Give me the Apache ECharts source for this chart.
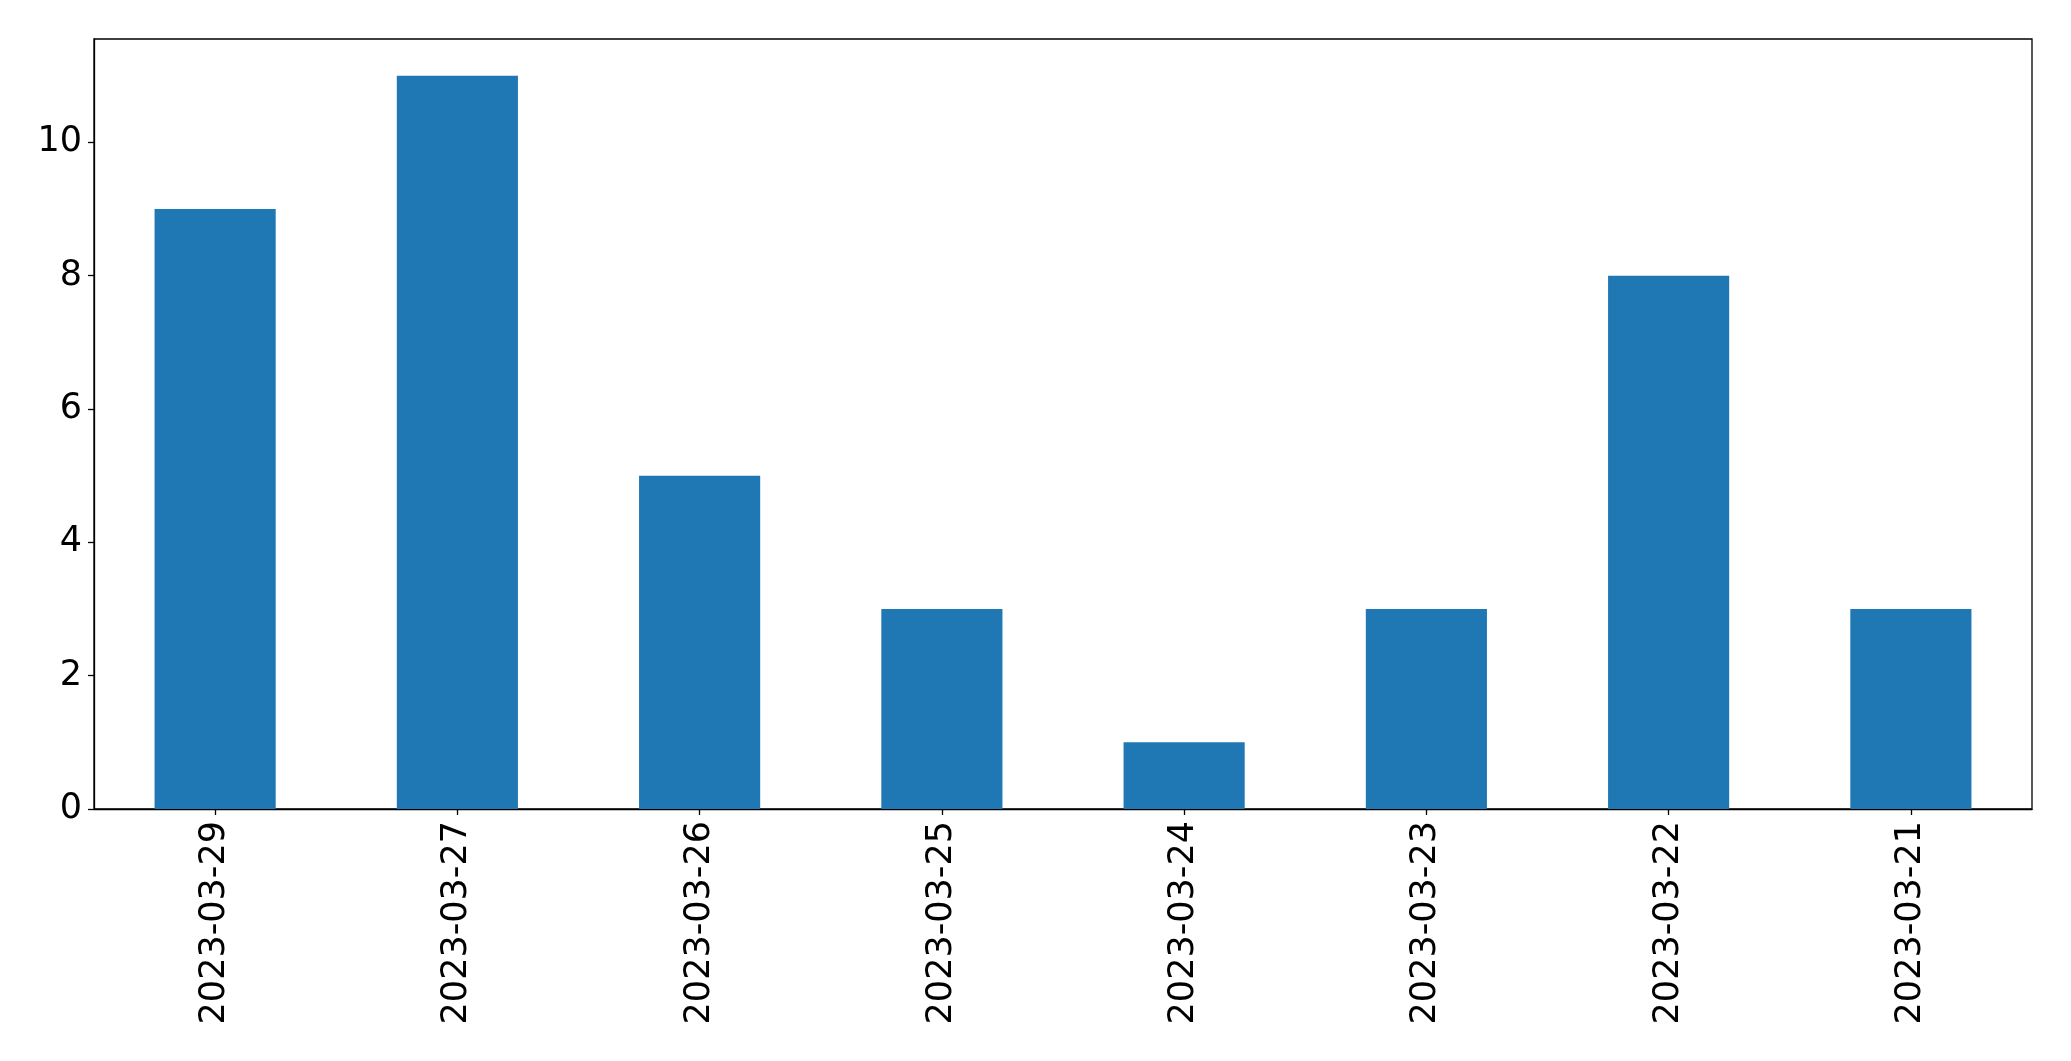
<!DOCTYPE html>
<html>
<head>
<meta charset="utf-8">
<script src="https://cdn.jsdelivr.net/npm/echarts@6/dist/echarts.min.js"></script>
<style>
html,body{margin:0;padding:0;background:#fff;}
#chart{width:2071px;height:1061px;}
</style>
</head>
<body>
<div id="chart"></div>
<script>
const categories = ['2023-03-29','2023-03-27','2023-03-26','2023-03-25','2023-03-24','2023-03-23','2023-03-22','2023-03-21'];
const values = [9, 11, 5, 3, 1, 3, 8, 3];
const yTicks = [0, 2, 4, 6, 8, 10];

const chart = echarts.init(document.getElementById('chart'), null, {renderer: 'canvas'});
chart.setOption({
  animation: false,
  backgroundColor: '#fff',
  grid: {
    left: 94, right: 39, top: 39, bottom: 252,
    show: true, borderColor: '#000', borderWidth: 1.3, backgroundColor: 'transparent'
  },
  xAxis: {
    type: 'category',
    data: categories,
    boundaryGap: true,
    axisLine: {show: true, lineStyle: {color: '#000', width: 1.3}},
    axisTick: {show: true, alignWithLabel: true, length: 6, lineStyle: {color: '#000', width: 1.3}},
    axisLabel: {
      rotate: 90, color: '#000', fontSize: 35, fontFamily: 'DejaVu Sans', margin: 12, interval: 0
    },
    splitLine: {show: false}
  },
  yAxis: {
    type: 'value',
    min: 0, max: 11.55, interval: 2,
    axisLine: {show: true, lineStyle: {color: '#000', width: 1.3}},
    axisTick: {show: true, length: 6, customValues: yTicks, lineStyle: {color: '#000', width: 1.3}},
    axisLabel: {
      color: '#000', fontSize: 35, fontFamily: 'DejaVu Sans', margin: 12,
      customValues: yTicks
    },
    splitLine: {show: false}
  },
  series: [{
    type: 'bar',
    data: values,
    barWidth: '50%',
    itemStyle: {color: '#1f77b4'}
  }]
});
</script>
</body>
</html>
